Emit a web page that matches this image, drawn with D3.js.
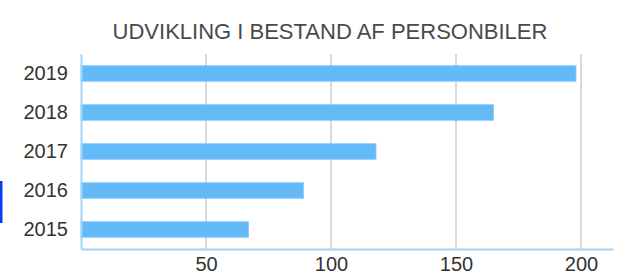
<!DOCTYPE html>
<html>
<head>
<meta charset="utf-8">
<script src="https://cdn.jsdelivr.net/npm/d3@7"></script>
<style>
  body { margin: 0; background: #fff; }
  text { font-family: "Liberation Sans", Arial, sans-serif; }
</style>
</head>
<body>
<div id="chart"></div>
<script>
// data
var years = ["2019", "2018", "2017", "2016", "2015"];
var values = [198, 165, 118, 89, 67];
var xTicks = [50, 100, 150, 200];
var title = "UDVIKLING I BESTAND AF PERSONBILER";

var W = 628, H = 275;
var margin = {top: 54, right: 15, bottom: 26, left: 81};
var width = W - margin.left - margin.right;
var height = H - margin.top - margin.bottom;

var svg = d3.select("#chart")
  .append("svg")
    .attr("width", W)
    .attr("height", H);

// stray blue strip at the left edge of the screenshot
svg.append("rect")
  .attr("x", 0)
  .attr("y", 181)
  .attr("width", 2.5)
  .attr("height", 42)
  .attr("fill", "#0a3cf0");

// title
svg.append("text")
  .attr("x", 330)
  .attr("y", 38.5)
  .attr("text-anchor", "middle")
  .attr("fill", "#4a4a4a")
  .style("font-size", "22px")
  .text(title);

var g = svg.append("g")
  .attr("transform", "translate(" + margin.left + "," + margin.top + ")");

var x = d3.scaleLinear()
  .domain([0, 212.8])
  .range([0, width]);

var y = d3.scaleBand()
  .domain(years)
  .range([0, height])
  .paddingInner(0.6)
  .paddingOuter(0.3);

// gridlines
g.selectAll(".grid")
  .data(xTicks)
  .enter()
  .append("line")
    .attr("x1", function(d) { return x(d); })
    .attr("x2", function(d) { return x(d); })
    .attr("y1", 0)
    .attr("y2", height)
    .attr("stroke", "#cccccc")
    .attr("stroke-width", 1.5);

// bars
g.selectAll(".bar")
  .data(values)
  .enter()
  .append("rect")
    .attr("x", 0)
    .attr("y", function(d, i) { return y(years[i]); })
    .attr("width", function(d) { return x(d); })
    .attr("height", y.bandwidth())
    .attr("fill", "#64b9f8")
    .attr("stroke", "#8ccbf8")
    .attr("stroke-width", 0.8);

// x axis
var xAxis = g.append("g")
  .attr("transform", "translate(0," + height + ")")
  .call(d3.axisBottom(x).tickValues(xTicks).tickSize(0).tickPadding(8));
xAxis.select(".domain").attr("stroke", "#9fd3fa").attr("stroke-width", 2);
xAxis.selectAll("text")
  .attr("fill", "#333")
  .style("font-size", "20px")
  .attr("dy", "0.71em");

// y axis
var yAxis = g.append("g")
  .call(d3.axisLeft(y).tickSize(0).tickPadding(13));
yAxis.select(".domain").attr("stroke", "#9fd3fa").attr("stroke-width", 2);
yAxis.selectAll("text")
  .attr("fill", "#333")
  .style("font-size", "20px");
</script>
</body>
</html>
